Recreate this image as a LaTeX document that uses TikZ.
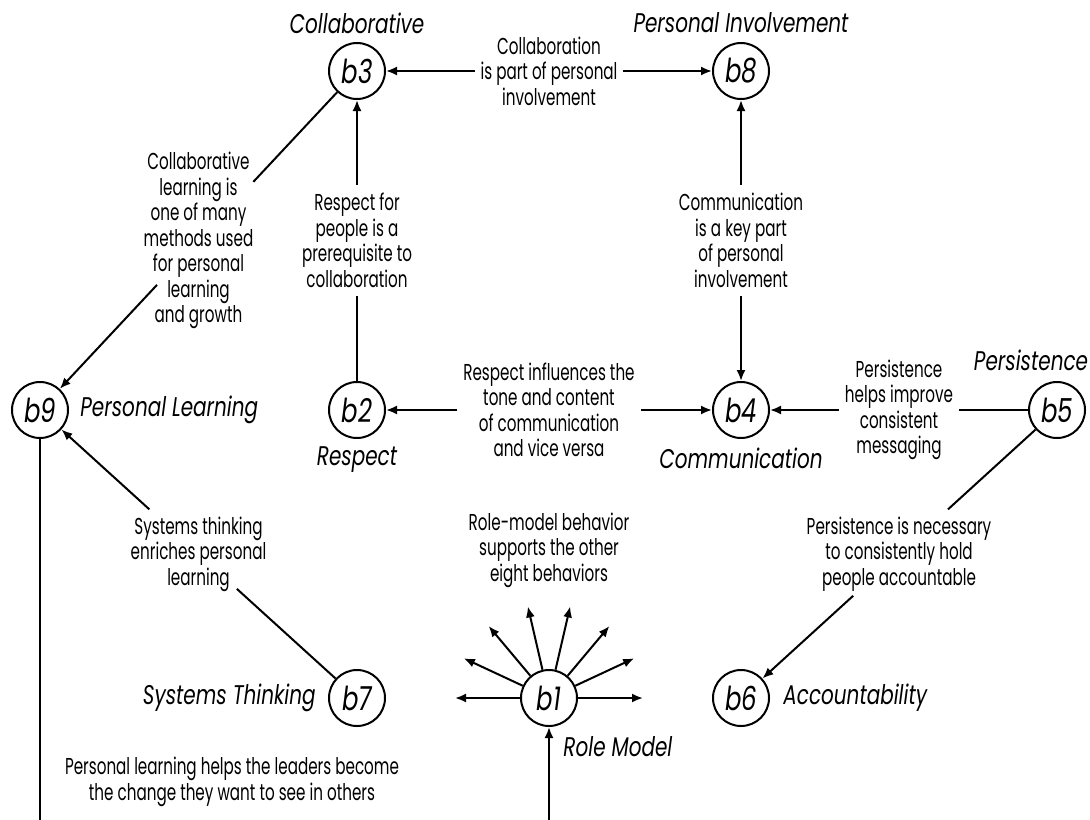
\documentclass[tikz,border=0pt]{standalone}
\usepackage{fontspec}
\setmainfont[FakeStretch=0.66]{Poppins}
\newfontfamily\namefont[FakeStretch=0.74]{Poppins}
\usetikzlibrary{arrows.meta,calc}
\begin{document}
\begin{tikzpicture}[x=0.5pt,y=-0.5pt,
  bnode/.style={circle,draw,line width=1pt,minimum size=28pt,inner sep=0pt,font=\namefont\fontsize{16.5}{18}\selectfont\itshape},
  bname/.style={font=\namefont\fontsize{13.5}{15}\selectfont\itshape,inner sep=0pt},
  lbl/.style={font=\fontsize{11.5}{12.75}\selectfont,align=center,inner sep=0pt},
  gap/.style={lbl,fill=white,inner xsep=3pt,inner ysep=4pt},
  ln/.style={line width=1pt},
  arr/.style={-{Latex[length=5.5pt,width=4.5pt]},line width=1pt},
  barr/.style={{Latex[length=5.5pt,width=4.5pt]}-{Latex[length=5.5pt,width=4.5pt]},line width=1pt}]
\useasboundingbox (0,0) rectangle (1090,819);
\clip (0,0) rectangle (1090,819);
% behaviour nodes
\node[bnode] (b3) at (357,71) {b3};
\node[bnode] (b8) at (741,71) {b8};
\node[bnode] (b9) at (40,410) {b9};
\node[bnode] (b2) at (357,410) {b2};
\node[bnode] (b4) at (741,410) {b4};
\node[bnode] (b5) at (1057,410) {b5};
\node[bnode] (b7) at (357,698) {b7};
\node[bnode] (b1) at (549,698) {b1};
\node[bnode] (b6) at (741,698) {b6};
% names
\node[bname] (n3) at (357,23) {Collaborative};
\node[bname] (n8) at (741,23) {Personal Involvement};
\node[bname,anchor=west] (n9) at (80,410) {Personal Learning};
\node[bname] (n2) at (357,460) {Respect};
\node[bname] (n4) at (741,458) {Communication};
\node[bname] (n5) at (1031,360) {Persistence};
\node[bname,anchor=east] (n7) at (316,698) {Systems Thinking};
\node[bname,anchor=west] (n6) at (783,698) {Accountability};
\node[bname,anchor=west] (n1) at (563,747) {Role Model};
% straight connectors
\draw[barr] (b3) -- (b8) node[gap,midway] (e38) {Collaboration\\is part of personal\\involvement};
\draw[arr] (b2) -- (b3) node[gap,midway] (e23) {Respect for\\people is a\\prerequisite to\\collaboration};
\draw[barr] (b4) -- (b8) node[gap,midway] (e48) {Communication\\is a key part\\of personal\\involvement};
\draw[barr] (b2) -- (b4) node[gap,midway] (e24) {Respect influences the\\tone and content\\of communication\\and vice versa};
\draw[arr] (b5) -- (b4) node[gap,midway] (e54) {Persistence\\helps improve\\consistent\\messaging};
% diagonal connectors
\coordinate (c39a) at ($(b3)!0.327!(b9)$);
\coordinate (c39b) at ($(b3)!0.631!(b9)$);
\draw[ln] (b3) -- (c39a);
\draw[arr] (c39b) -- (b9);
\node[lbl] (e39) at ($(b3)!0.5!(b9)$) {Collaborative\\learning is\\one of many\\methods used\\for personal\\learning\\and growth};
\coordinate (c79a) at ($(b7)!0.379!(b9)$);
\coordinate (c79b) at ($(b7)!0.655!(b9)$);
\draw[ln] (b7) -- (c79a);
\draw[arr] (c79b) -- (b9);
\node[lbl] (e79) at ($(b7)!0.5!(b9)$) {Systems thinking\\enriches personal\\learning};
\coordinate (c56a) at ($(b5)!0.345!(b6)$);
\coordinate (c56b) at ($(b5)!0.645!(b6)$);
\draw[ln] (b5) -- (c56a);
\draw[arr] (c56b) -- (b6);
\node[lbl] (e56) at ($(b5)!0.5!(b6)$) {Persistence is necessary\\to consistently hold\\people accountable};
% role model
\node[lbl] (rm) at (549,550) {Role-model behavior\\supports the other\\eight behaviors};
\foreach \a in {0,25,50,77,103,130,155,180}
  \draw[arr] (b1.\a) -- ($(b1.center)+(\a:47pt)$);
% personal learning to role model
\coordinate (bot) at (0,860);
\draw[arr] (b9) -- (b9 |- bot) -| (b1);
\node[lbl] (e91) at (232,782) {Personal learning helps the leaders become\\the change they want to see in others};
\end{tikzpicture}
\end{document}
